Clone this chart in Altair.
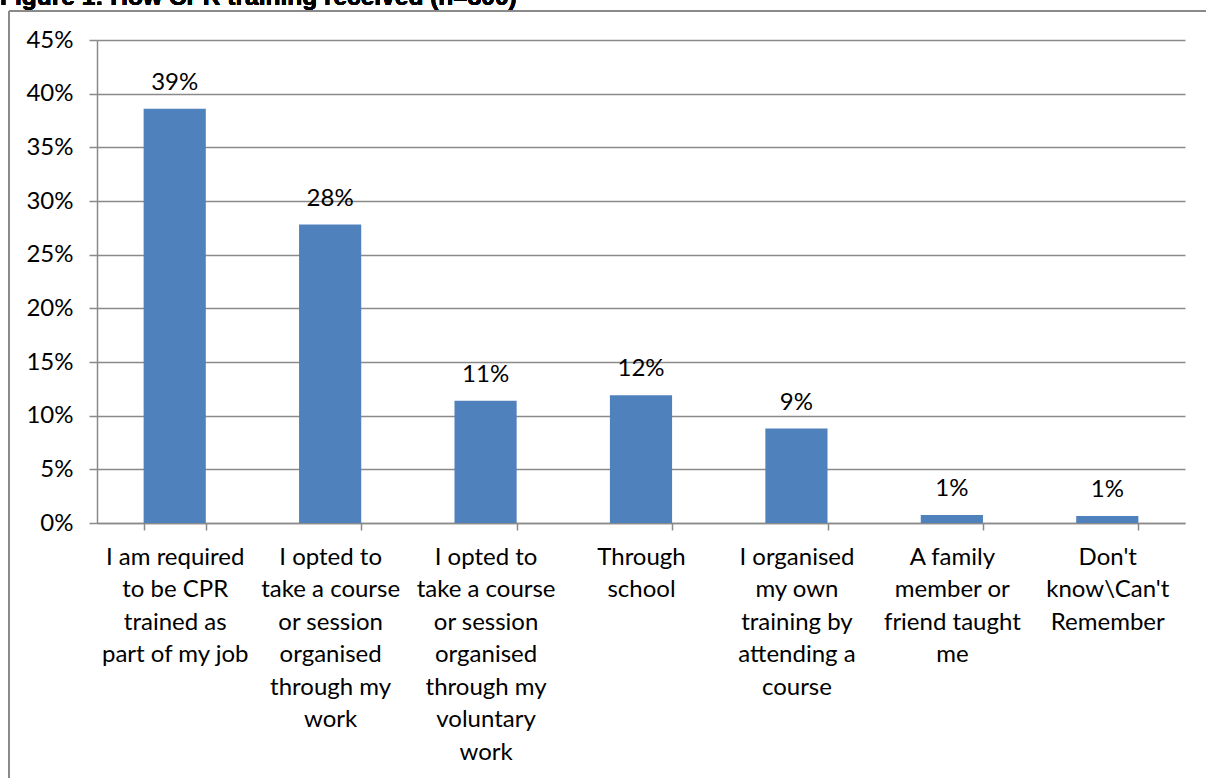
import altair as alt
import pandas as pd

# ---- data ----
label_lines = [
    ["I am required", "to be CPR", "trained as", "part of my job"],
    ["I opted to", "take a course", "or session", "organised", "through my", "work"],
    ["I opted to", "take a course", "or session", "organised", "through my", "voluntary", "work"],
    ["Through", "school"],
    ["I organised", "my own", "training by", "attending a", "course"],
    ["A family", "member or", "friend taught", "me"],
    ["Don't", "know\\Can't", "Remember"],
]
values = [38.6, 27.8, 11.4, 11.9, 8.8, 0.75, 0.65]  # percent
y_ticks = [0, 0.05, 0.10, 0.15, 0.20, 0.25, 0.30, 0.35, 0.40, 0.45]
title_text = "Figure 1: How CPR training received (n=300)"

categories = ["|".join(l) for l in label_lines]
df = pd.DataFrame({"category": categories, "share": [v / 100 for v in values]})

FONT = "Lato"
GRID = "#8a8a8a"

x_enc = alt.X(
    "category:N",
    sort=categories,
    scale=alt.Scale(paddingInner=0.6, paddingOuter=0.3),
    axis=alt.Axis(
        title=None,
        labelAngle=0,
        labelExpr="split(datum.label, '|')",
        labelFont=FONT,
        labelFontSize=24,
        labelColor="black",
        labelLineHeight=32.5,
        labelBaseline="top",
        labelPadding=15,
        labelLimit=300,
        tickBand="extent",
        tickSize=7,
        tickColor=GRID,
        tickWidth=1.5,
        domainColor=GRID,
        domainWidth=1.5,
        grid=False,
    ),
)
y_enc = alt.Y(
    "share:Q",
    scale=alt.Scale(domain=[0, 0.45], nice=False),
    axis=alt.Axis(
        title=None,
        values=y_ticks,
        format=".0%",
        labelFont=FONT,
        labelFontSize=24,
        labelColor="black",
        labelPadding=16,
        tickSize=8,
        tickColor=GRID,
        tickWidth=1.5,
        domainColor=GRID,
        domainWidth=1.5,
        grid=True,
        gridColor=GRID,
        gridWidth=1.5,
    ),
)

base = alt.Chart(df)
bars = base.mark_bar(color="#4F81BD").encode(x=x_enc, y=y_enc)
labels = base.mark_text(
    font=FONT, fontSize=24, color="black", baseline="alphabetic", dy=-19
).encode(
    x=alt.X("category:N", sort=categories),
    y="share:Q",
    text=alt.Text("share:Q", format=".0%"),
)

frame_top = alt.Chart(df).mark_rule(color=GRID, strokeWidth=2).encode(
    x=alt.value(-88), x2=alt.value(1109), y=alt.value(-29)
)
frame_left = alt.Chart(df).mark_rule(color=GRID, strokeWidth=2).encode(
    x=alt.value(-88), y=alt.value(-29), y2=alt.value(740)
)
title = alt.Chart(df).mark_text(
    font="Liberation Sans", fontWeight="bold", fontSize=24.5, align="left",
    baseline="alphabetic", color="black"
).encode(x=alt.value(-97), y=alt.value(-35), text=alt.value(title_text))

chart = (
    alt.layer(frame_top, frame_left, title, bars, labels)
    .properties(
        width=1088,
        height=483,
        autosize=alt.AutoSizeParams(type="none"),
        padding={"left": 97, "top": 40, "right": 21, "bottom": 255},
        background="white",
    )
    .configure_view(stroke=None)
)

chart.save("out.html", embed_options={"renderer": "svg", "actions": False})
